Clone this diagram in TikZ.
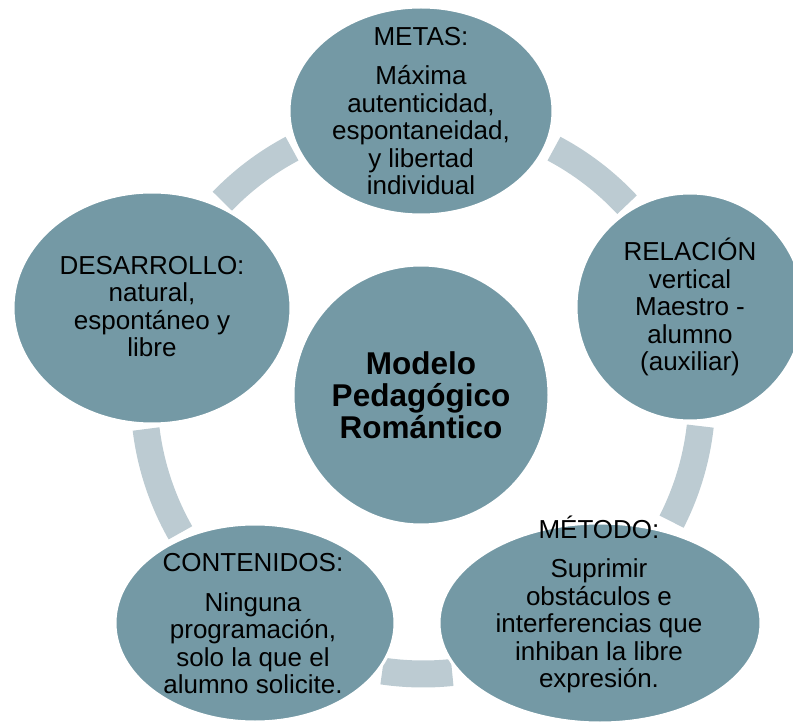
\documentclass[tikz,border=0pt]{standalone}
\usepackage{fontspec}
\setmainfont{Liberation Sans}
\usepackage{tikz}
\usetikzlibrary{shapes.geometric}
\definecolor{bubblefill}{RGB}{116,153,165}
\definecolor{ringfill}{RGB}{188,203,210}
\tikzset{
	bubble/.style={ellipse, fill=bubblefill, draw=white, line width=3pt, inner sep=0pt},
	bubbletext/.style={align=center, inner sep=0pt, font=\fontsize{26}{27.5}\selectfont},
	ringband/.style={draw=ringfill, line width=27pt},
}
\def\ringseg(#1:#2){\draw[ringband] (hub) ++(#1:279) arc (#1:#2:279);}

\begin{document}
\begin{tikzpicture}[x=1pt,y=1pt]
			%%%%% START %%%%%
			
			\useasboundingbox (0,0) rectangle (793,724);
			\coordinate (hub) at (423,329);
			
			\ringseg(43:62)
			\ringseg(118:136)
			\ringseg(187:209.6)
			\ringseg(261.6:276)
			\ringseg(333:353.6)
			
			\node[bubble, minimum width=264pt, minimum height=208pt] (metas) at (421,613) {};
			\node[bubble, minimum width=228pt, minimum height=228pt] (relacion) at (690,417) {};
			\node[bubble, minimum width=322pt, minimum height=200pt] (metodo) at (600,101) {};
			\node[bubble, minimum width=280pt, minimum height=198pt] (contenidos) at (255,101) {};
			\node[bubble, minimum width=278pt, minimum height=232pt] (desarrollo) at (152,416) {};
			\node[bubble, minimum width=256pt, minimum height=260pt] (modelo) at (421,329) {};
			
			\node[bubbletext] (metastext) at (421,613) {METAS:\\[12pt]Máxima\\autenticidad,\\espontaneidad,\\y libertad\\individual};
			\node[bubbletext] (relaciontext) at (690,417) {RELACIÓN\\vertical\\Maestro -\\alumno\\(auxiliar)};
			\node[bubbletext] (metodotext) at (599,119.5) {MÉTODO:\\[12pt]Suprimir\\obstáculos e\\interferencias que\\inhiban la libre\\expresión.};
			\node[bubbletext] (contenidostext) at (253,100) {CONTENIDOS:\\[12pt]Ninguna\\programación,\\solo la que el\\alumno solicite.};
			\node[bubbletext] (desarrollotext) at (152,417.5) {DESARROLLO:\\natural,\\espontáneo y\\libre};
			\node[bubbletext, font=\fontsize{31.5}{32}\selectfont\bfseries] (modelotext) at (421,329) {Modelo\\Pedagógico\\Romántico};
			
			%%%%% END %%%%%
\end{tikzpicture}
\end{document}
